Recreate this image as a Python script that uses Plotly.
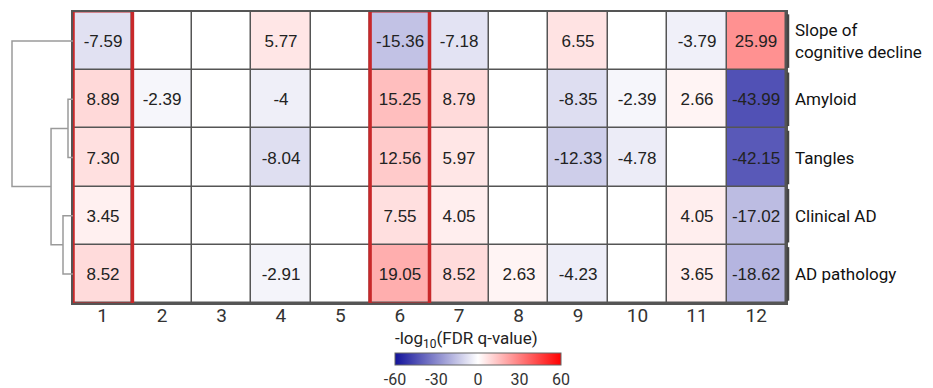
import plotly.graph_objects as go

# ---------------- data ----------------
rows = ["Slope of<br>cognitive decline", "Amyloid", "Tangles", "Clinical AD", "AD pathology"]
cols = [1, 2, 3, 4, 5, 6, 7, 8, 9, 10, 11, 12]

slope = [-7.59, None, None, 5.77, None, -15.36, -7.18, None, 6.55, None, -3.79, 25.99]
amyloid = [8.89, -2.39, None, -4, None, 15.25, 8.79, None, -8.35, -2.39, 2.66, -43.99]
tangles = [7.30, None, None, -8.04, None, 12.56, 5.97, None, -12.33, -4.78, None, -42.15]
clinical_ad = [3.45, None, None, None, None, 7.55, 4.05, None, None, None, 4.05, -17.02]
ad_pathology = [8.52, None, None, -2.91, None, 19.05, 8.52, 2.63, -4.23, None, 3.65, -18.62]

highlight_cols = [1, 6]
cbar_ticks = [-60, -30, 0, 30, 60]
cbar_ticktext = ["-60", "-30", "0", "30", "60"]
cbar_title = "-log<sub>10</sub>(FDR q-value)"

# dendrogram linkage over rows (children are row indices or merge ids, height)
# merges are numbered 5, 6, 7, 8 in order
linkage = [
    (1, 2, 0.082),   # 5: Amyloid + Tangles
    (3, 4, 0.164),   # 6: Clinical AD + AD pathology
    (5, 6, 0.36),    # 7
    (0, 7, 1.0),     # 8: Slope + rest
]

# ---------------- figure ----------------
W, H = 925, 380  # page body has an 8px default margin
matrix = [slope, amyloid, tangles, clinical_ad, ad_pathology]
z = [[0 if v is None else v for v in r] for r in matrix]


def fmt(v):
    if v is None:
        return ""
    if float(v).is_integer():
        return str(int(v))
    return "%.2f" % v


text = [[fmt(v) for v in r] for r in matrix]

hx0, hx1 = 65, 778
hy0, hy1 = 4, 295
x0p, x1p = hx0 / W, hx1 / W
y0p, y1p = 1 - hy1 / H, 1 - hy0 / H

fig = go.Figure()
fig.add_trace(go.Heatmap(
    z=z, x=cols, y=list(range(len(rows))),
    text=text, texttemplate="%{text}",
    textfont=dict(family="Liberation Sans, Arial", size=17, color="#222"),
    zmin=-60, zmax=60,
    colorscale=[[0, "#12129a"], [0.5, "#ffffff"], [1, "#ff0000"]],
    xgap=1.5, ygap=1.5,
    hoverinfo="skip",
    colorbar=dict(
        orientation="h", thickness=12, len=186, lenmode="pixels",
        x=470 / W, xanchor="center", y=0.009, yanchor="bottom", ypad=0,
        tickvals=cbar_ticks, ticktext=cbar_ticktext, ticks="",
        tickfont=dict(family="Roboto", size=16, color="#333"),
        outlinewidth=1, outlinecolor="#666",
    ),
))

# dendrogram
pos = {i: (float(i), 0.0) for i in range(len(rows))}
dx, dy = [], []
for k, (a, b, h) in enumerate(linkage):
    ya, ha = pos[a]
    yb, hb = pos[b]
    dx += [ha, h, h, hb, None]
    dy += [ya, ya, yb, yb, None]
    pos[len(rows) + k] = ((ya + yb) / 2, h)
fig.add_trace(go.Scatter(x=dx, y=dy, xaxis="x2", yaxis="y", mode="lines",
                         line=dict(color="#9a9a9a", width=1.5),
                         hoverinfo="skip", showlegend=False))

shapes = [dict(type="rect", xref="x", yref="y", x0=0.5, x1=len(cols) + 0.5,
               y0=-0.5, y1=len(rows) - 0.5, fillcolor="#555", line=dict(width=0),
               layer="below")]
for c in highlight_cols:
    shapes.append(dict(type="rect", xref="x", yref="y", x0=c - 0.5, x1=c + 0.5,
                       y0=-0.52, y1=len(rows) - 0.48,
                       line=dict(color="#c8282a", width=3.5), layer="above"))
for i in range(len(rows)):
    shapes.append(dict(type="line", xref="paper", yref="y", x0=780 / W, x1=780 / W,
                       y0=i - 0.46, y1=i + 0.46, line=dict(color="#444", width=2.5)))

annotations = []
for i, r in enumerate(rows):
    annotations.append(dict(xref="paper", yref="y", x=785 / W, y=i, text=r,
                            xanchor="left", yanchor="middle", align="left", showarrow=False,
                            font=dict(family="Roboto", size=17, color="#111")))
annotations.append(dict(xref="paper", yref="paper", x=458 / W, y=1 - 331 / H,
                        text=cbar_title, xanchor="center", yanchor="middle",
                        showarrow=False, font=dict(family="Roboto", size=17, color="#222")))

fig.update_layout(
    width=W, height=H,
    margin=dict(l=0, r=0, t=0, b=0),
    paper_bgcolor="white", plot_bgcolor="white",
    font=dict(family="Roboto"),
    xaxis=dict(domain=[x0p, x1p], range=[0.5, 12.5], tickvals=cols,
               ticktext=[str(c) for c in cols], showgrid=False, zeroline=False,
               tickfont=dict(family="Roboto", size=19, color="#333"),
               ticklabelstandoff=-6,
               showline=True, linecolor="#555", linewidth=1.5, mirror=True, anchor="y"),
    yaxis=dict(domain=[y0p, y1p], range=[len(rows) - 0.5, -0.5], showticklabels=False,
               showgrid=False, zeroline=False, showline=True, linecolor="#555",
               linewidth=1.5, mirror=True),
    xaxis2=dict(domain=[0, x0p], range=[hx0 / (hx0 - 4), 0], visible=False, anchor="y"),
    shapes=shapes, annotations=annotations,
)

fig.write_html("out.html")
